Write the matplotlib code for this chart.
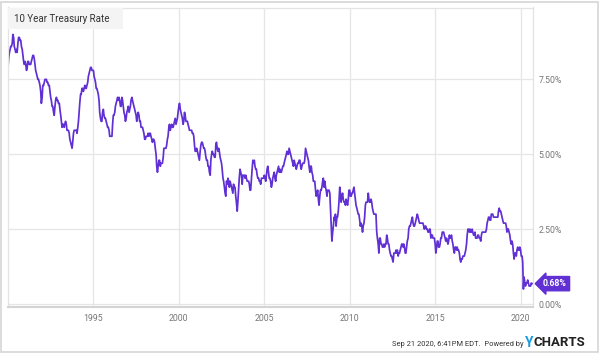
import matplotlib
matplotlib.use("Agg")
import matplotlib.pyplot as plt
import matplotlib.dates as mdates
from matplotlib.patches import Rectangle
import numpy as np
import pandas as pd

plt.rcParams['font.family'] = ['Roboto', 'DejaVu Sans']

# 10 year treasury rate, two readings per month (1st and 15th)
rates_1990s = [
    7.9, 8.2, 8.4, 8.5, 8.6, 8.6, 8.7, 9.0, 8.9, 8.6, 8.5, 8.4, 8.5, 8.4, 8.7, 8.9, 8.9, 8.8, 8.8, 8.6, 8.5, 8.3, 8.1, 8.0,  # 1990
    8.1, 8.0, 7.8, 7.9, 8.1, 8.1, 8.0, 8.0, 8.0, 8.1, 8.2, 8.3, 8.3, 8.2, 8.0, 7.8, 7.7, 7.6, 7.5, 7.5, 7.4, 7.3, 7.1, 6.7,  # 1991
    6.9, 7.3, 7.3, 7.4, 7.5, 7.5, 7.5, 7.4, 7.4, 7.3, 7.3, 7.1, 6.9, 6.8, 6.6, 6.6, 6.4, 6.3, 6.6, 6.8, 6.9, 6.8, 6.8, 6.7,  # 1992
    6.7, 6.5, 6.3, 6.1, 5.9, 6.0, 6.0, 5.9, 6.0, 6.1, 6.0, 5.8, 5.8, 5.8, 5.7, 5.5, 5.4, 5.3, 5.2, 5.4, 5.7, 5.8, 5.8, 5.8,  # 1993
    5.8, 5.7, 5.9, 6.1, 6.4, 6.7, 7.0, 7.0, 7.2, 7.2, 7.1, 7.2, 7.3, 7.2, 7.2, 7.3, 7.4, 7.6, 7.7, 7.8, 7.9, 7.9, 7.8, 7.8,  # 1994
    7.8, 7.6, 7.5, 7.4, 7.2, 7.2, 7.1, 7.0, 6.8, 6.4, 6.2, 6.1, 6.1, 6.4, 6.5, 6.3, 6.2, 6.2, 6.1, 6.0, 5.9, 5.9, 5.8, 5.6,  # 1995
    5.6, 5.6, 5.6, 6.0, 6.3, 6.3, 6.4, 6.6, 6.7, 6.8, 6.9, 6.8, 6.9, 6.8, 6.6, 6.6, 6.9, 6.8, 6.6, 6.4, 6.3, 6.1, 6.2, 6.4,  # 1996
    6.5, 6.6, 6.4, 6.5, 6.6, 6.8, 6.9, 6.8, 6.7, 6.6, 6.5, 6.4, 6.3, 6.1, 6.3, 6.4, 6.3, 6.1, 6.1, 5.9, 5.9, 5.9, 5.8, 5.7,  # 1997
    5.5, 5.5, 5.6, 5.6, 5.6, 5.7, 5.6, 5.7, 5.7, 5.6, 5.5, 5.4, 5.5, 5.5, 5.4, 5.2, 5.0, 4.6, 4.4, 4.6, 4.8, 4.8, 4.6, 4.7,  # 1998
    4.7, 4.7, 4.9, 5.2, 5.2, 5.2, 5.2, 5.3, 5.5, 5.6, 5.9, 6.0, 5.8, 5.9, 6.0, 5.9, 5.9, 6.0, 6.1, 6.2, 6.0, 6.1, 6.2, 6.4,  # 1999
]
rates_2000s = [
    6.6, 6.7, 6.5, 6.4, 6.3, 6.2, 6.0, 6.1, 6.4, 6.3, 6.1, 6.1, 6.1, 6.0, 5.9, 5.8, 5.8, 5.8, 5.8, 5.7, 5.7, 5.6, 5.3, 5.1,  # 2000
    5.1, 5.2, 5.1, 5.0, 4.9, 4.8, 5.1, 5.3, 5.4, 5.4, 5.3, 5.2, 5.2, 5.1, 4.9, 4.8, 4.8, 4.6, 4.6, 4.4, 4.3, 4.8, 5.0, 5.1,  # 2001
    5.0, 5.0, 4.9, 4.9, 5.3, 5.4, 5.2, 5.1, 5.2, 5.1, 4.9, 4.8, 4.7, 4.5, 4.2, 4.1, 3.9, 3.7, 3.6, 4.1, 4.0, 4.2, 4.1, 3.9,  # 2002
    4.1, 4.0, 3.9, 3.8, 3.7, 4.0, 3.9, 3.9, 3.6, 3.4, 3.1, 3.4, 3.8, 4.2, 4.5, 4.4, 4.3, 4.0, 4.3, 4.3, 4.3, 4.2, 4.3, 4.2,  # 2003
    4.1, 4.1, 4.1, 4.0, 3.8, 3.8, 4.2, 4.5, 4.8, 4.7, 4.8, 4.6, 4.5, 4.5, 4.3, 4.2, 4.2, 4.1, 4.1, 4.0, 4.2, 4.2, 4.2, 4.2,  # 2004
    4.3, 4.2, 4.1, 4.3, 4.5, 4.6, 4.4, 4.2, 4.2, 4.1, 3.9, 4.0, 4.2, 4.3, 4.4, 4.2, 4.1, 4.3, 4.4, 4.5, 4.6, 4.4, 4.5, 4.4,  # 2005
    4.4, 4.5, 4.6, 4.6, 4.7, 4.8, 4.9, 5.0, 5.1, 5.0, 5.0, 5.2, 5.1, 5.0, 4.9, 4.8, 4.7, 4.6, 4.8, 4.7, 4.6, 4.5, 4.6, 4.7,  # 2006
    4.7, 4.8, 4.8, 4.6, 4.5, 4.6, 4.7, 4.7, 4.7, 4.8, 5.2, 5.1, 5.0, 4.9, 4.8, 4.6, 4.4, 4.6, 4.6, 4.4, 4.3, 4.1, 4.1, 4.1,  # 2007
    3.8, 3.6, 3.7, 3.8, 3.5, 3.3, 3.6, 3.8, 3.8, 3.9, 4.1, 4.2, 3.9, 4.1, 3.9, 3.8, 3.6, 3.8, 3.8, 3.8, 3.7, 3.2, 2.6, 2.1,  # 2008
    2.4, 2.6, 2.9, 2.8, 3.0, 2.6, 2.9, 2.9, 3.1, 3.4, 3.9, 3.7, 3.4, 3.6, 3.7, 3.5, 3.4, 3.4, 3.3, 3.5, 3.4, 3.3, 3.5, 3.8,  # 2009
]
rates_2010s = [
    3.8, 3.6, 3.6, 3.7, 3.7, 3.8, 3.9, 3.7, 3.5, 3.3, 3.2, 3.1, 3.0, 3.0, 2.8, 2.6, 2.7, 2.6, 2.4, 2.6, 2.7, 2.9, 3.3, 3.4,  # 2010
    3.4, 3.4, 3.7, 3.5, 3.4, 3.4, 3.5, 3.4, 3.2, 3.1, 3.0, 3.0, 3.0, 3.0, 2.4, 2.2, 2.0, 1.7, 2.2, 2.2, 2.0, 2.0, 1.9, 1.9,  # 2011
    2.0, 1.9, 2.0, 2.0, 2.3, 2.2, 2.0, 2.0, 1.8, 1.7, 1.6, 1.6, 1.5, 1.4, 1.7, 1.7, 1.7, 1.8, 1.7, 1.8, 1.6, 1.7, 1.7, 1.8,  # 2012
    1.9, 2.0, 2.0, 1.9, 2.0, 1.9, 1.7, 1.7, 1.9, 2.1, 2.2, 2.5, 2.6, 2.6, 2.7, 2.8, 2.9, 2.7, 2.6, 2.6, 2.7, 2.8, 2.9, 3.0,  # 2013
    2.9, 2.8, 2.7, 2.7, 2.7, 2.7, 2.7, 2.7, 2.6, 2.5, 2.6, 2.6, 2.5, 2.5, 2.4, 2.4, 2.5, 2.5, 2.2, 2.3, 2.3, 2.2, 2.2, 2.2,  # 2014
    2.0, 1.7, 1.9, 2.1, 2.1, 1.9, 1.9, 2.0, 2.2, 2.2, 2.4, 2.4, 2.4, 2.3, 2.2, 2.1, 2.2, 2.1, 2.0, 2.1, 2.3, 2.2, 2.2, 2.3,  # 2015
    2.1, 2.0, 1.8, 1.7, 1.9, 1.9, 1.8, 1.9, 1.8, 1.8, 1.7, 1.5, 1.4, 1.5, 1.5, 1.6, 1.6, 1.6, 1.7, 1.8, 2.0, 2.3, 2.5, 2.5,  # 2016
    2.4, 2.5, 2.4, 2.4, 2.5, 2.4, 2.3, 2.3, 2.4, 2.2, 2.2, 2.2, 2.3, 2.3, 2.2, 2.2, 2.1, 2.3, 2.4, 2.4, 2.4, 2.4, 2.4, 2.4,  # 2017
    2.5, 2.7, 2.8, 2.9, 2.9, 2.8, 2.8, 3.0, 3.0, 3.0, 2.9, 2.9, 2.9, 2.9, 2.9, 2.9, 2.9, 3.1, 3.2, 3.1, 3.1, 3.0, 2.9, 2.8,  # 2018
    2.7, 2.7, 2.7, 2.7, 2.6, 2.4, 2.5, 2.5, 2.4, 2.3, 2.1, 2.0, 2.1, 2.0, 1.7, 1.5, 1.7, 1.7, 1.6, 1.8, 1.9, 1.8, 1.8, 1.9,  # 2019
]
rates_2020 = [1.8, 1.6, 1.6, 1.4, 0.5, 0.9, 0.7, 0.6, 0.7, 0.7, 0.8, 0.7, 0.6, 0.6, 0.6, 0.7, 0.68, 0.68]

y_ticks = [0, 2.5, 5, 7.5]
y_labels = ["0.00%", "2.50%", "5.00%", "7.50%"]
x_years = [1995, 2000, 2005, 2010, 2015, 2020]
title = "10 Year Treasury Rate"
last_label = "0.68%"

rates = rates_1990s + rates_2000s + rates_2010s + rates_2020
dates = pd.date_range("1990-01-01", periods=len(rates), freq="SMS")

purple = "#6030d4"
grid_c = "#e6e6e6"

fig = plt.figure(figsize=(6, 3.53), dpi=100)
ax = fig.add_axes([8 / 600, 1 - 307 / 353, 525 / 600, 299.5 / 353])

ax.plot(dates, rates, color=purple, lw=1.25, solid_joinstyle="round")

ax.set_xlim(pd.Timestamp("1990-01-01"), pd.Timestamp("2020-09-22"))
ax.set_ylim(-0.1, 9.9)

ax.set_xticks([pd.Timestamp(f"{y}-01-01") for y in x_years])
ax.xaxis.set_major_formatter(mdates.DateFormatter("%Y"))
ax.set_yticks(y_ticks)
ax.set_yticklabels(y_labels)
ax.yaxis.tick_right()
ax.tick_params(axis="both", length=0, colors="#777777", labelsize=6.3)
ax.tick_params(axis="y", pad=4)
ax.tick_params(axis="x", pad=5)
for lab in ax.get_yticklabels():
    lab.set_horizontalalignment("left")

ax.grid(True, color=grid_c, lw=0.9)
ax.set_axisbelow(True)
for s in ["top", "right", "left"]:
    ax.spines[s].set_color("#e3e3e3")
    ax.spines[s].set_linewidth(0.9)
ax.spines["bottom"].set_color("#d4d4d4")
ax.spines["bottom"].set_linewidth(1.5)

# last value tag
ax.annotate(last_label, xy=(dates[-1], rates[-1]), xytext=(7.5, 0), textcoords="offset points",
            va="center", ha="left", color="white", fontsize=6.3, fontweight="bold",
            bbox=dict(boxstyle="larrow,pad=0.3", fc=purple, ec=purple),
            annotation_clip=False)

# title box
fig.patches.append(Rectangle((8 / 600, 1 - 29 / 353), 115 / 600, 21 / 353,
                             transform=fig.transFigure, fc="#f4f4f4", ec="none", zorder=3))
fig.text(14 / 600, 1 - 19 / 353, title, fontsize=7, color="#333333", va="center", ha="left", zorder=4)

# footer
fig.text(523 / 600, 1 - 344 / 353, "Sep 21 2020, 6:41PM EDT.  Powered by", fontsize=5.4,
         color="#333333", ha="right", va="center")
fig.text(525 / 600, 1 - 343 / 353, "Y", fontsize=10, fontweight="bold", color="#1b9be0",
         ha="left", va="center")
fig.text(534 / 600, 1 - 343 / 353, "CHARTS", fontsize=9.5, fontweight="bold", color="#222222",
         ha="left", va="center")

# outer frame
fig.patches.append(Rectangle((1 / 600, 1 / 353), 597 / 600, 350 / 353, transform=fig.transFigure,
                             fc="none", ec="#d6d6d6", lw=1.2))

fig.savefig("out.png", dpi=100)
